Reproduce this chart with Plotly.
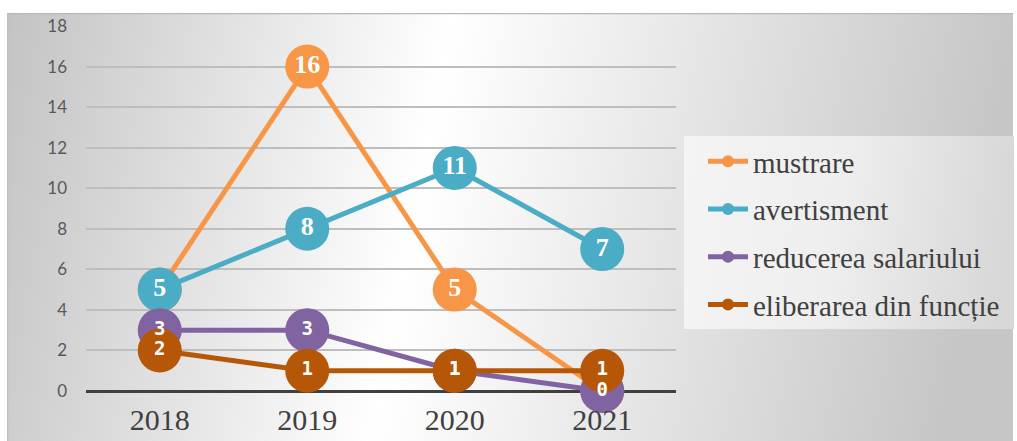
import base64
import plotly.graph_objects as go

# ---- data ----
years = ["2018", "2019", "2020", "2021"]
mustrare = [5, 16, 5, 0]
avertisment = [5, 8, 11, 7]
reducerea_salariului = [3, 3, 1, 0]
eliberarea_din_functie = [2, 1, 1, 1]
series_names = ["mustrare", "avertisment", "reducerea salariului", "eliberarea din funcție"]
y_ticks = [0, 2, 4, 6, 8, 10, 12, 14, 16, 18]

colors = ["#F79646", "#4BACC6", "#8064A2", "#B65708"]
series_values = [mustrare, avertisment, reducerea_salariului, eliberarea_din_functie]

W, H = 1017, 441
L, R, T, B = 86, 676, 26, 391  # plot area in px
pw, ph = R - L, B - T

fig = go.Figure()

serif = "Liberation Serif, Times New Roman, serif"
mono = "DejaVu Sans Mono, monospace"

for i, (name, vals, col) in enumerate(zip(series_names, series_values, colors)):
    with_text = i < 2
    fig.add_trace(go.Scatter(
        x=years, y=vals, name=name,
        mode="lines+markers+text" if with_text else "lines+markers",
        text=[str(v) for v in vals] if with_text else None,
        textposition="middle center",
        textfont=dict(family=serif, size=26, color="white", weight="bold"),
        line=dict(color=col, width=5),
        marker=dict(color=col, size=44),
        legendgroup=name,
        cliponaxis=False,
    ))

# labels of the last two series drawn on top of everything
for name, vals in zip(series_names[2:], series_values[2:]):
    fig.add_trace(go.Scatter(
        x=years, y=vals, mode="text",
        text=[str(v) for v in vals],
        textposition="middle center",
        textfont=dict(family=mono, size=19, color="white", weight="bold"),
        showlegend=False, hoverinfo="skip", cliponaxis=False,
    ))


def svg_src(w, h, stops, border):
    st = "".join(f'<stop offset="{o}" stop-color="{c}"/>' for o, c in stops)
    svg = (f'<svg xmlns="http://www.w3.org/2000/svg" width="{w}" height="{h}" '
           f'viewBox="0 0 {w} {h}" preserveAspectRatio="none"><defs>'
           f'<linearGradient id="g" x1="0" y1="0" x2="1" y2="0.08">{st}</linearGradient></defs>'
           f'<rect x="0" y="0" width="{w}" height="{h}" fill="url(#g)"/>{border}</svg>')
    return "data:image/svg+xml;base64," + base64.b64encode(svg.encode()).decode()


def add_img(src, x0, y0, x1, y1):
    fig.add_layout_image(dict(
        source=src, xref="paper", yref="paper",
        x=(x0 - L) / pw, y=(B - y0) / ph,
        sizex=(x1 - x0) / pw, sizey=(y1 - y0) / ph,
        xanchor="left", yanchor="top", sizing="stretch", layer="below",
    ))


# chart background
bx0, by0, bx1, by1 = 7, 13, 1013, 441
bw, bh = bx1 - bx0, by1 - by0
border = (f'<line x1="0" y1="0.5" x2="{bw}" y2="0.5" stroke="#B8B8B8" stroke-width="1.5"/>'
          f'<line x1="0.5" y1="0" x2="0.5" y2="{bh}" stroke="#C0C0C0" stroke-width="1.5"/>')
add_img(svg_src(bw, bh, [(0, "#C3C3C3"), (0.44, "#FFFFFF"), (1, "#C6C6C6")], border),
        bx0, by0, bx1, by1)
# legend box
lx0, ly0, lx1, ly1 = 684, 136, 1014, 329
add_img(svg_src(lx1 - lx0, ly1 - ly0, [(0, "#F4F4F4"), (0.5, "#EEEEEE"), (1, "#D8D8D8")], ""),
        lx0, ly0, lx1, ly1)

fig.update_layout(
    width=W, height=H,
    margin=dict(l=L, r=W - R, t=T, b=H - B, pad=0, autoexpand=False),
    paper_bgcolor="white",
    plot_bgcolor="rgba(0,0,0,0)",
    showlegend=True,
    legend=dict(
        x=(703 - L) / pw, y=(B - 136) / ph, xanchor="left", yanchor="top",
        bgcolor="rgba(0,0,0,0)",
        font=dict(family=serif, size=29, color="#404040"),
        tracegroupgap=7, itemsizing="constant", itemwidth=40,
    ),
    xaxis=dict(
        type="category", range=[-0.5, 3.5], automargin=False,
        showgrid=False, zeroline=False,
        showline=False, ticks="",
        tickfont=dict(family=serif, size=30, color="#404040"),
        ticklabelstandoff=8,
    ),
    yaxis=dict(
        range=[0, 18], tickvals=y_ticks, automargin=False,
        showgrid=True, gridcolor="#BEBEBE", gridwidth=1.5,
        zeroline=True, zerolinecolor="#404040", zerolinewidth=3,
        ticks="", tickfont=dict(family="Lato", size=17, color="#595959"),
        ticklabelstandoff=18,
    ),
)

fig.write_html(
    "out.html",
    config={"displayModeBar": False},
    post_script="document.body.style.margin='0';document.body.style.overflow='hidden';",
)
